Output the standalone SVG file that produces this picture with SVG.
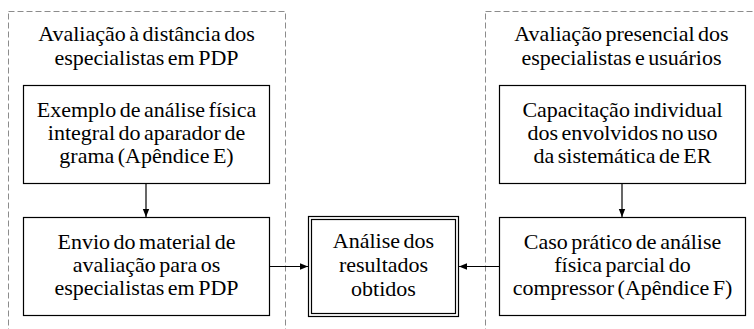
<svg xmlns="http://www.w3.org/2000/svg" width="754" height="329" viewBox="0 0 754 329">
<defs>
<style>
.bg{fill:#fff}
.grp{fill:none;stroke:#8c8c8c;stroke-width:1;stroke-dasharray:6,3}
.box{fill:#fff;stroke:#000;stroke-width:1.2}
.t{font-size:22px;word-spacing:-2px;fill:#000;text-anchor:middle}
.ln{fill:none;stroke:#000;stroke-width:1.2}
</style>
<marker id="ah" viewBox="0 0 10 10" refX="10" refY="5" markerWidth="8" markerHeight="8" markerUnits="userSpaceOnUse" orient="auto">
<path d="M0,1 L10,5 L0,9 Z" fill="#000"/>
</marker>
</defs>
<rect class="bg" x="0" y="0" width="754" height="329"/>
<g font-family="'Liberation Serif', 'Times New Roman', 'DejaVu Serif', serif">
<g id="group-left">
<rect class="grp" x="8.5" y="11.5" width="277" height="330"/>
<text class="t" x="146.5" y="41">Avaliação à distância dos</text>
<text class="t" x="146.5" y="64.5">especialistas em PDP</text>
</g>
<g id="group-right">
<rect class="grp" x="485.5" y="11.5" width="277" height="330"/>
<text class="t" x="621.5" y="41">Avaliação presencial dos</text>
<text class="t" x="621.5" y="64.5">especialistas e usuários</text>
</g>
<g id="connectors">
<line class="ln" x1="146" y1="184" x2="146" y2="217" marker-end="url(#ah)"/>
<line class="ln" x1="622" y1="184" x2="622" y2="217" marker-end="url(#ah)"/>
<line class="ln" x1="269" y1="266.5" x2="308" y2="266.5" marker-end="url(#ah)"/>
<line class="ln" x1="499" y1="266.5" x2="459" y2="266.5" marker-end="url(#ah)"/>
</g>
<g id="node-exemplo">
<rect class="box" x="23.5" y="85.5" width="246" height="98"/>
<text class="t" x="146.5" y="117">Exemplo de análise física</text>
<text class="t" x="146.5" y="140">integral do aparador de</text>
<text class="t" x="146.5" y="163">grama (Apêndice E)</text>
</g>
<g id="node-envio">
<rect class="box" x="23.5" y="217.5" width="246" height="98"/>
<text class="t" x="146.5" y="249">Envio do material de</text>
<text class="t" x="146.5" y="272">avaliação para os</text>
<text class="t" x="146.5" y="295">especialistas em PDP</text>
</g>
<g id="node-analise">
<rect class="box" x="308.5" y="216.5" width="150" height="100"/>
<rect class="box" x="311.5" y="219.5" width="144" height="94"/>
<text class="t" x="383.5" y="248">Análise dos</text>
<text class="t" x="383.5" y="272">resultados</text>
<text class="t" x="383.5" y="296">obtidos</text>
</g>
<g id="node-capacitacao">
<rect class="box" x="499.5" y="85.5" width="246" height="98"/>
<text class="t" x="622.5" y="117">Capacitação individual</text>
<text class="t" x="622.5" y="140">dos envolvidos no uso</text>
<text class="t" x="622.5" y="163">da sistemática de ER</text>
</g>
<g id="node-caso">
<rect class="box" x="499.5" y="217.5" width="246" height="98"/>
<text class="t" x="622.5" y="249">Caso prático de análise</text>
<text class="t" x="622.5" y="272">física parcial do</text>
<text class="t" x="622.5" y="295">compressor (Apêndice F)</text>
</g>
</g>
</svg>
